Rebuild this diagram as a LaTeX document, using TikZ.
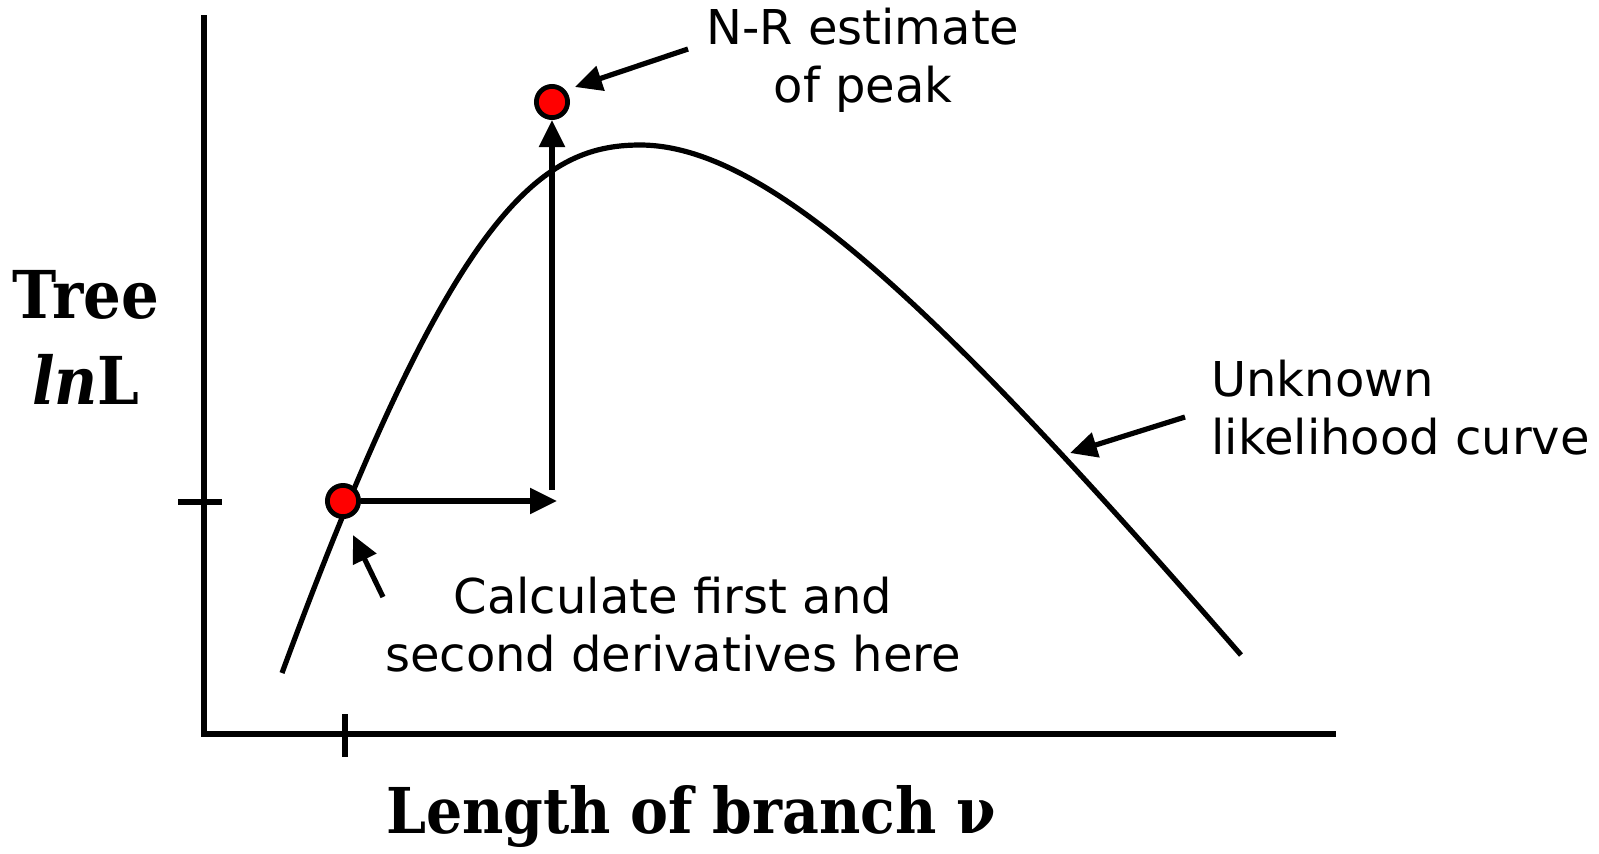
\documentclass[tikz,border=0pt]{standalone}
\usepackage{fontspec}
\setmainfont{DejaVu Sans}
\newfontfamily\axisfont{DejaVu Serif Condensed}
\usepackage{tikz}
\usetikzlibrary{arrows.meta}
\definecolor{DotRed}{HTML}{FF0000}

\begin{document}
\begin{tikzpicture}[x=0.5pt,y=-0.5pt,
  axis/.style={line width=2.6pt},
  dot/.style={circle,draw,line width=2.4pt,fill=DotRed,minimum size=15.6pt,inner sep=0pt},
  pointer/.style={line width=2.6pt,-{Triangle[length=13.5pt,width=12.5pt]}},
  note/.style={font=\fontsize{24}{29}\selectfont,align=center,inner sep=0pt},
  big/.style={font=\axisfont\bfseries\fontsize{33}{43}\selectfont,align=center,inner sep=0pt}]
  \useasboundingbox (0,0) rectangle (1599,853);
  % axes and ticks
  \draw[axis] (204,15) -- (204,734) -- (1336,734);
  \draw[axis] (178,502) -- (222,502);
  \draw[axis] (345,714) -- (345,757);
  % likelihood curve
  \draw[line width=2.6pt] (282,673) .. controls (452,211) and (540,145) .. (640,145)
    .. controls (770,145) and (945,315) .. (1241,655);
  \node[dot] (start) at (343,501) {};
  \node[dot] (peak) at (552,102) {};
  \coordinate (reach) at (557,501);
  \coordinate (rise) at (552,490);
  \draw[pointer] (start.east) -- (reach);
  \draw[pointer] (rise) -- (peak.south);
  % labels
  \node[note] (nr) at (863,60) {N-R estimate\\of peak};
  \node[note] (calc) at (673,625) {Calculate first and\\second derivatives here};
  \node[note,align=left,anchor=west] (curve) at (1211,408) {Unknown\\likelihood curve};
  \node[big] (ylab) at (86,337) {Tree\\\textit{ln}L};
  \node[big,font=\axisfont\bfseries\fontsize{31.6}{40}\selectfont] (xlab) at (691,816) {Length of branch ν};
  \coordinate (nrfrom) at (688,49);
  \coordinate (nrto) at (575,87);
  \coordinate (calcfrom) at (383,597);
  \coordinate (calcto) at (353,535);
  \coordinate (curvefrom) at (1185,417);
  \coordinate (curveto) at (1070,453);
  \draw[pointer] (nrfrom) -- (nrto);
  \draw[pointer] (calcfrom) -- (calcto);
  \draw[pointer] (curvefrom) -- (curveto);
\end{tikzpicture}
\end{document}
